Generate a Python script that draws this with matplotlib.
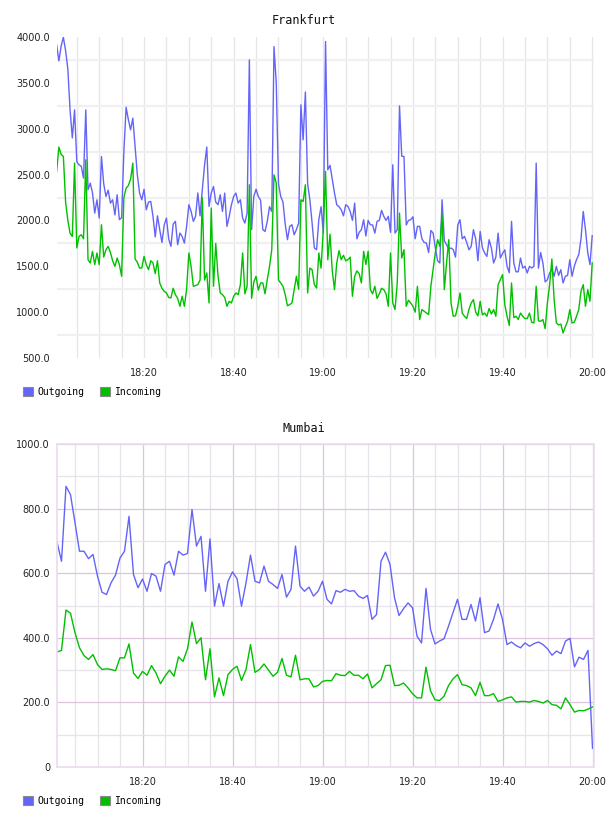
#!/usr/bin/env python3
"""Traffic charts for Frankfurt and Mumbai (outgoing / incoming)."""

import numpy as np
import pandas as pd
import matplotlib
matplotlib.use("Agg")
import matplotlib.pyplot as plt
import matplotlib.dates as mdates
from matplotlib.patches import Patch
from matplotlib.ticker import FixedLocator, FuncFormatter

BLUE = "#6464f8"
GREEN = "#00c000"
MONO = "DejaVu Sans Mono"

# Frankfurt: one sample every 30 s from 18:00:30 to 20:00:00 (10 values per 5-min cell)
fra_out = [
    3913, 3740, 3900, 3997, 3850, 3650, 3200, 2900, 3205, 2640,
    2606, 2590, 2461, 3205, 2334, 2407, 2300, 2080, 2225, 2026,
    2697, 2400, 2262, 2330, 2189, 2225, 2060, 2280, 2008, 2030,
    2750, 3234, 3100, 2988, 3115, 2800, 2500, 2300, 2225, 2340,
    2116, 2200, 2207, 2044, 1820, 2050, 1899, 1760, 1950, 2026,
    1800, 1717, 1960, 1990, 1735, 1862, 1826, 1753, 1935, 2171,
    2100, 1990, 2044, 2300, 2050, 2334, 2600, 2800, 2153, 2300,
    2370, 2200, 2171, 2280, 2098, 2298, 1935, 2044, 2171, 2262,
    2298, 2189, 2225, 2026, 1971, 2080, 3750, 1899, 2262, 2340,
    2262, 2220, 1900, 1880, 1990, 2150, 2098, 3895, 3500, 2400,
    2262, 2200, 1960, 1790, 1935, 1953, 1844, 1900, 1971, 3260,
    2879, 3400, 2400, 2225, 1971, 1700, 1681, 2008, 2150, 1862,
    3950, 2552, 2600, 2450, 2298, 2171, 2150, 2116, 2050, 2171,
    2153, 2098, 2000, 2189, 1800, 1870, 1899, 2008, 1830, 2000,
    1953, 1950, 1862, 1990, 2000, 2110, 2044, 2000, 2044, 1870,
    2607, 1862, 1899, 3249, 2700, 2697, 1950, 2000, 2008, 2040,
    1800, 1935, 1935, 1800, 1760, 1753, 1650, 1890, 1862, 1700,
    1560, 1536, 2225, 1780, 1735, 1690, 1699, 1681, 1600, 1950,
    2008, 1800, 1826, 1760, 1680, 1717, 1899, 1800, 1560, 1880,
    1700, 1645, 1608, 1790, 1700, 1536, 1600, 1862, 1590, 1640,
    1680, 1499, 1430, 1990, 1536, 1440, 1440, 1590, 1481, 1500,
    1427, 1499, 1481, 1500, 2625, 1480, 1650, 1536, 1330, 1354,
    1427, 1470, 1391, 1499, 1400, 1463, 1318, 1391, 1400, 1572,
    1391, 1500, 1572, 1627, 1800, 2098, 1899, 1650, 1518, 1834,
]
fra_in = [
    2534, 2800, 2720, 2697, 2200, 2000, 1860, 1826, 2625, 1700,
    1826, 1844, 1800, 2661, 1572, 1536, 1663, 1518, 1645, 1518,
    1953, 1600, 1681, 1717, 1650, 1560, 1499, 1590, 1518, 1391,
    2250, 2352, 2380, 2450, 2625, 1580, 1545, 1481, 1481, 1608,
    1518, 1463, 1560, 1536, 1420, 1560, 1318, 1260, 1227, 1209,
    1160, 1155, 1260, 1190, 1150, 1064, 1173, 1064, 1250, 1645,
    1500, 1282, 1290, 1300, 1350, 2250, 1350, 1427, 1100, 2135,
    1282, 1750, 1400, 1209, 1191, 1160, 1064, 1118, 1100, 1173,
    1209, 1190, 1300, 1645, 1200, 1282, 2389, 1150, 1330, 1391,
    1240, 1318, 1318, 1200, 1354, 1499, 1681, 2497, 2407, 1350,
    1318, 1282, 1190, 1070, 1082, 1100, 1245, 1391, 1250, 2225,
    2207, 2389, 1209, 1481, 1463, 1300, 1263, 1645, 1480, 1899,
    2534, 1572, 1850, 1450, 1245, 1536, 1670, 1572, 1620, 1560,
    1572, 1600, 1173, 1391, 1450, 1420, 1318, 1663, 1520, 1663,
    1245, 1200, 1282, 1150, 1200, 1260, 1245, 1200, 1064, 1645,
    1100, 1028, 1318, 2080, 1590, 1681, 1064, 1130, 1100, 1064,
    1000, 1282, 919, 1028, 1010, 992, 973, 1282, 1463, 1650,
    1790, 1717, 2062, 1245, 1536, 1790, 1100, 955, 960, 1064,
    1209, 990, 955, 930, 1030, 1100, 1137, 1000, 960, 1118,
    970, 990, 955, 1040, 980, 1028, 955, 1300, 1354, 1409,
    1080, 955, 855, 1318, 940, 955, 920, 990, 955, 930,
    930, 990, 890, 882, 1282, 905, 900, 919, 820, 1100,
    1300, 1580, 1137, 882, 860, 870, 773, 840, 900, 1028,
    882, 890, 955, 1028, 1230, 1300, 1064, 1245, 1118, 1536,
]

# Mumbai: one sample per minute from 18:01 to 20:00
mum_out = [
    697, 637, 869, 843, 756, 668, 668, 645, 658, 591,
    541, 534, 570, 594, 647, 668, 776, 596, 555, 582,
    544, 599, 591, 544, 627, 637, 594, 668, 656, 661,
    797, 684, 714, 544, 706, 498, 568, 498, 575, 604,
    583, 498, 570, 656, 575, 570, 622, 575, 565, 553,
    596, 526, 550, 684, 560, 544, 557, 529, 544, 575,
    519, 505, 546, 541, 550, 544, 546, 529, 522, 531,
    457, 472, 637, 665, 627, 524, 469, 490, 508, 493,
    405, 384, 553, 426, 381, 390, 397, 436, 478, 519,
    457, 457, 503, 452, 524, 416, 421, 457, 505, 457,
    379, 387, 376, 369, 384, 374, 382, 387, 379, 366,
    346, 359, 351, 390, 398, 310, 340, 333, 361, 58,
]
mum_in = [
    356, 361, 486, 476, 416, 369, 345, 333, 348, 317,
    302, 304, 302, 298, 338, 338, 381, 291, 274, 296,
    284, 314, 291, 258, 281, 300, 281, 341, 327, 366,
    449, 382, 400, 270, 366, 217, 276, 221, 286, 302,
    312, 268, 302, 379, 293, 302, 319, 300, 281, 293,
    336, 284, 279, 346, 270, 273, 273, 248, 252, 265,
    268, 267, 289, 284, 283, 296, 284, 284, 273, 288,
    245, 258, 270, 314, 315, 252, 253, 260, 245, 227,
    214, 214, 309, 236, 208, 206, 219, 252, 273, 286,
    255, 252, 245, 221, 262, 221, 221, 227, 203, 208,
    214, 217, 201, 203, 203, 201, 206, 203, 198, 206,
    193, 191, 180, 214, 193, 170, 175, 174, 179, 186,
]

fra_yticks = [500, 1000, 1500, 2000, 2500, 3000, 3500, 4000]
mum_yticks = [0, 200, 400, 600, 800, 1000]
series_labels = ["Outgoing", "Incoming"]

BASE = pd.Timestamp("2024-01-01 18:00:00")
fra_times = pd.date_range(BASE + pd.Timedelta(seconds=30), periods=len(fra_out), freq="30s")
mum_times = pd.date_range(BASE + pd.Timedelta(minutes=1), periods=len(mum_out), freq="1min")


def ylabel_fmt(v, pos):
    return "0" if v == 0 else f"{v:.1f}"


def setup_time_axis(ax, t0, t1):
    ax.set_xlim(BASE + pd.Timedelta(minutes=t0), BASE + pd.Timedelta(minutes=t1))
    ax.xaxis.set_major_locator(mdates.MinuteLocator(byminute=[0, 20, 40]))
    ax.xaxis.set_minor_locator(mdates.MinuteLocator(byminute=range(0, 60, 5)))
    ax.xaxis.set_major_formatter(mdates.DateFormatter("%H:%M"))
    ax.yaxis.set_major_formatter(FuncFormatter(ylabel_fmt))
    ax.tick_params(which="both", length=0, labelsize=7, colors="#222222")
    ax.tick_params(axis="y", pad=5)
    ax.tick_params(axis="x", pad=7)
    ax.set_axisbelow(True)


def add_legend(fig, y_px):
    handles = [Patch(facecolor=BLUE, edgecolor="#8a8a8a", linewidth=0.8),
               Patch(facecolor=GREEN, edgecolor="#8a8a8a", linewidth=0.8)]
    fig.legend(handles, series_labels, loc="center left",
               bbox_to_anchor=(23 / 608, 1 - y_px / 816), ncol=2, frameon=False,
               borderpad=0, borderaxespad=0, handlelength=1.0, handleheight=1.0,
               handletextpad=0.5, columnspacing=1.6,
               prop={"family": MONO, "size": 7})


fig = plt.figure(figsize=(6.08, 8.16), dpi=100)

# --- Frankfurt ---
ax1 = fig.add_axes([57 / 608, 1 - 358 / 816, 537 / 608, 321 / 816])
ax1.plot(fra_times, fra_out, color=BLUE, lw=1.0)
ax1.plot(fra_times, fra_in, color=GREEN, lw=1.0)
ax1.set_ylim(500, 4000)
ax1.yaxis.set_major_locator(FixedLocator(fra_yticks))
ax1.yaxis.set_minor_locator(FixedLocator(np.arange(750, 4000, 500)))
setup_time_axis(ax1, 0.58, 120.4)
# keep 5-minute grid lines that fall on the labelled hours too
ax1.xaxis.remove_overlapping_locs = False
ax1.grid(False)
ax1.grid(True, axis="x", which="minor", color="#e6e6e6", lw=0.9)
ax1.grid(True, axis="y", which="minor", color="#f0f0f0", lw=1.6)
for s in ax1.spines.values():
    s.set_visible(False)
fig.text(0.5, 1 - 20 / 816, "Frankfurt", ha="center", va="center",
         family=MONO, size=8.5, color="#111111")
add_legend(fig, 392)

# --- Mumbai ---
ax2 = fig.add_axes([57 / 608, 1 - 767 / 816, 537 / 608, 323 / 816])
ax2.plot(mum_times, mum_out, color=BLUE, lw=1.0)
ax2.plot(mum_times, mum_in, color=GREEN, lw=1.0)
ax2.set_ylim(0, 1000)
ax2.yaxis.set_major_locator(FixedLocator(mum_yticks))
ax2.yaxis.set_minor_locator(FixedLocator(np.arange(100, 1000, 200)))
setup_time_axis(ax2, 1.0, 120.33)
ax2.grid(True, which="minor", color="#e8e2ea", lw=0.9)
ax2.grid(True, which="major", color="#dcc6de", lw=0.9)
for s in ax2.spines.values():
    s.set_color("#eadcee")
    s.set_linewidth(1.2)
fig.text(0.5, 1 - 428 / 816, "Mumbai", ha="center", va="center",
         family=MONO, size=8.5, color="#111111")
add_legend(fig, 801)

fig.savefig("out.png", dpi=100)
